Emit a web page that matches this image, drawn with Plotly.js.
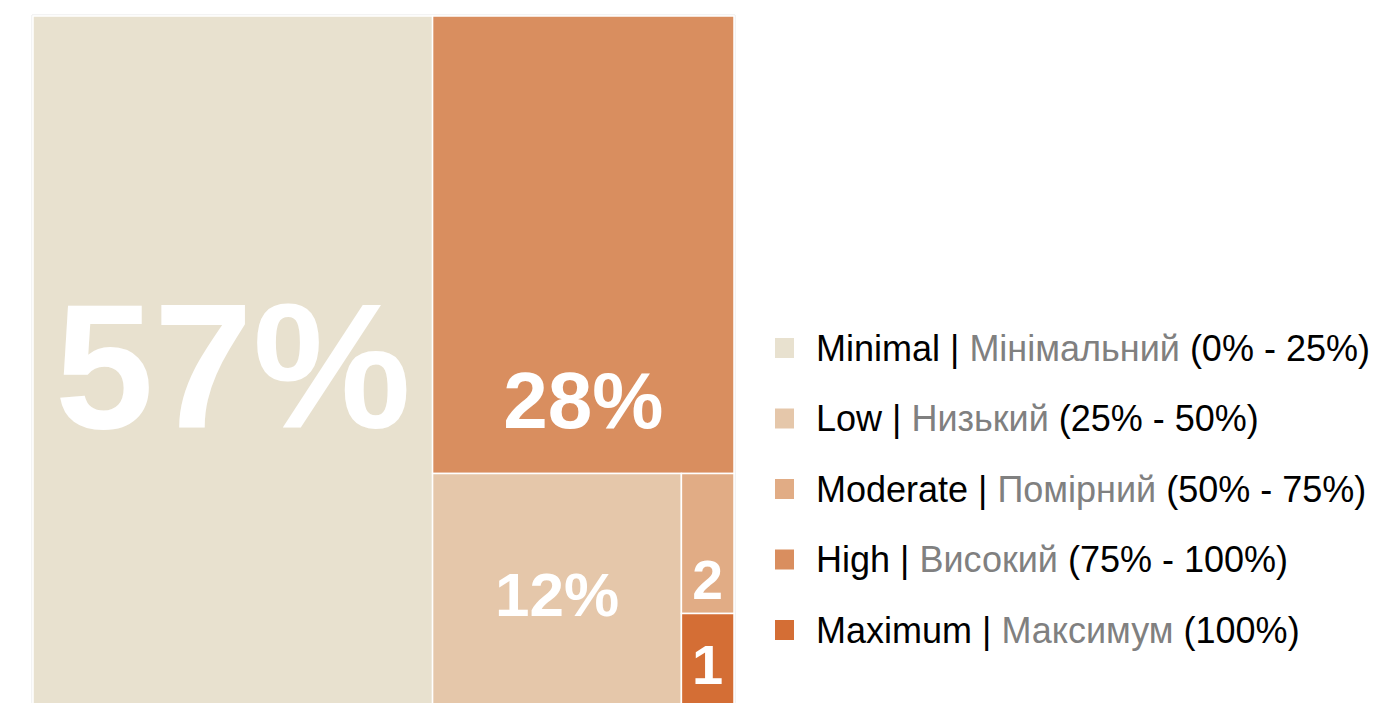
<!DOCTYPE html>
<html>
<head>
<meta charset="utf-8">
<script src="https://cdn.plot.ly/plotly-3.0.1.min.js"></script>
<style>
html, body { margin: 0; padding: 0; overflow: hidden; background: #fff; }
#chart { width: 1384px; height: 720px; }
</style>
</head>
<body>
<div id="chart"></div>
<script>
// Data
const categories = ["Minimal", "High", "Low", "Moderate", "Maximum"];
const shares = [57, 28.1, 12.3, 1.5, 1.1];
const shownText = ["57%", "\u00a0<br>\u00a0<br>\u00a0<br>28%", "12%", "\u00a0<br>2", "1"];
const colors = ["#E8E1CF", "#D98E5F", "#E5C7AA", "#E1AC85", "#D46E35"];

const legendOrder = ["Minimal", "Low", "Moderate", "High", "Maximum"];
const legendEn = ["Minimal", "Low", "Moderate", "High", "Maximum"];
const legendUk = ["Мінімальний", "Низький", "Помірний", "Високий", "Максимум"];
const legendRange = ["(0% - 25%)", "(25% - 50%)", "(50% - 75%)", "(75% - 100%)", "(100%)"];

const W = 1384, H = 720;
const domX = [33 / W, 734 / W];
const domY = [1 - 716 / H, 1 - 16 / H];

const trace = {
  type: "treemap",
  labels: categories,
  parents: categories.map(() => ""),
  values: shares,
  text: shownText,
  textinfo: "text",
  textposition: "middle center",
  textfont: { color: "#ffffff", family: "Liberation Sans, Arial, sans-serif", weight: "bold", size: [178, 80, 62, 56, 56] },
  marker: { colors: colors, line: { color: "#ffffff", width: 1.5 }, pad: { t: 0, l: 0, r: 0, b: 0 } },
  tiling: { packing: "squarify", squarifyratio: 1, pad: 0 },
  pathbar: { visible: false },
  sort: true,
  hoverinfo: "label+value",
  domain: { x: domX, y: domY }
};

const shapes = [{
  type: "rect", xref: "paper", yref: "paper",
  x0: domX[0] - 1 / W, x1: domX[1] + 1 / W, y0: domY[0] - 1 / H, y1: domY[1] + 1 / H,
  line: { color: "#E6E6E6", width: 1 }, fillcolor: "rgba(0,0,0,0)", layer: "below"
}];
const annotations = [];
const rowY0 = 348, rowStep = 70.5;
legendOrder.forEach((cat, i) => {
  const yc = rowY0 + i * rowStep;
  const col = colors[categories.indexOf(cat)];
  shapes.push({
    type: "rect", xref: "paper", yref: "paper",
    x0: 775 / W, x1: 794 / W, y0: 1 - (yc + 10) / H, y1: 1 - (yc - 10) / H,
    line: { width: 0 }, fillcolor: col
  });
  annotations.push({
    xref: "paper", yref: "paper", x: 814 / W, y: 1 - yc / H,
    xanchor: "left", yanchor: "middle", showarrow: false,
    text: legendEn[i] + " | <span style='color:#808080'>" + legendUk[i] + "</span> " + legendRange[i],
    font: { family: "Liberation Sans, Arial, sans-serif", size: 36, color: "#000000" }
  });
});

const layout = {
  width: W, height: H,
  margin: { l: 0, r: 0, t: 0, b: 0 },
  paper_bgcolor: "#ffffff",
  showlegend: false,
  shapes: shapes,
  annotations: annotations
};

Plotly.newPlot("chart", [trace], layout, { displayModeBar: false, staticPlot: false });
</script>
</body>
</html>
